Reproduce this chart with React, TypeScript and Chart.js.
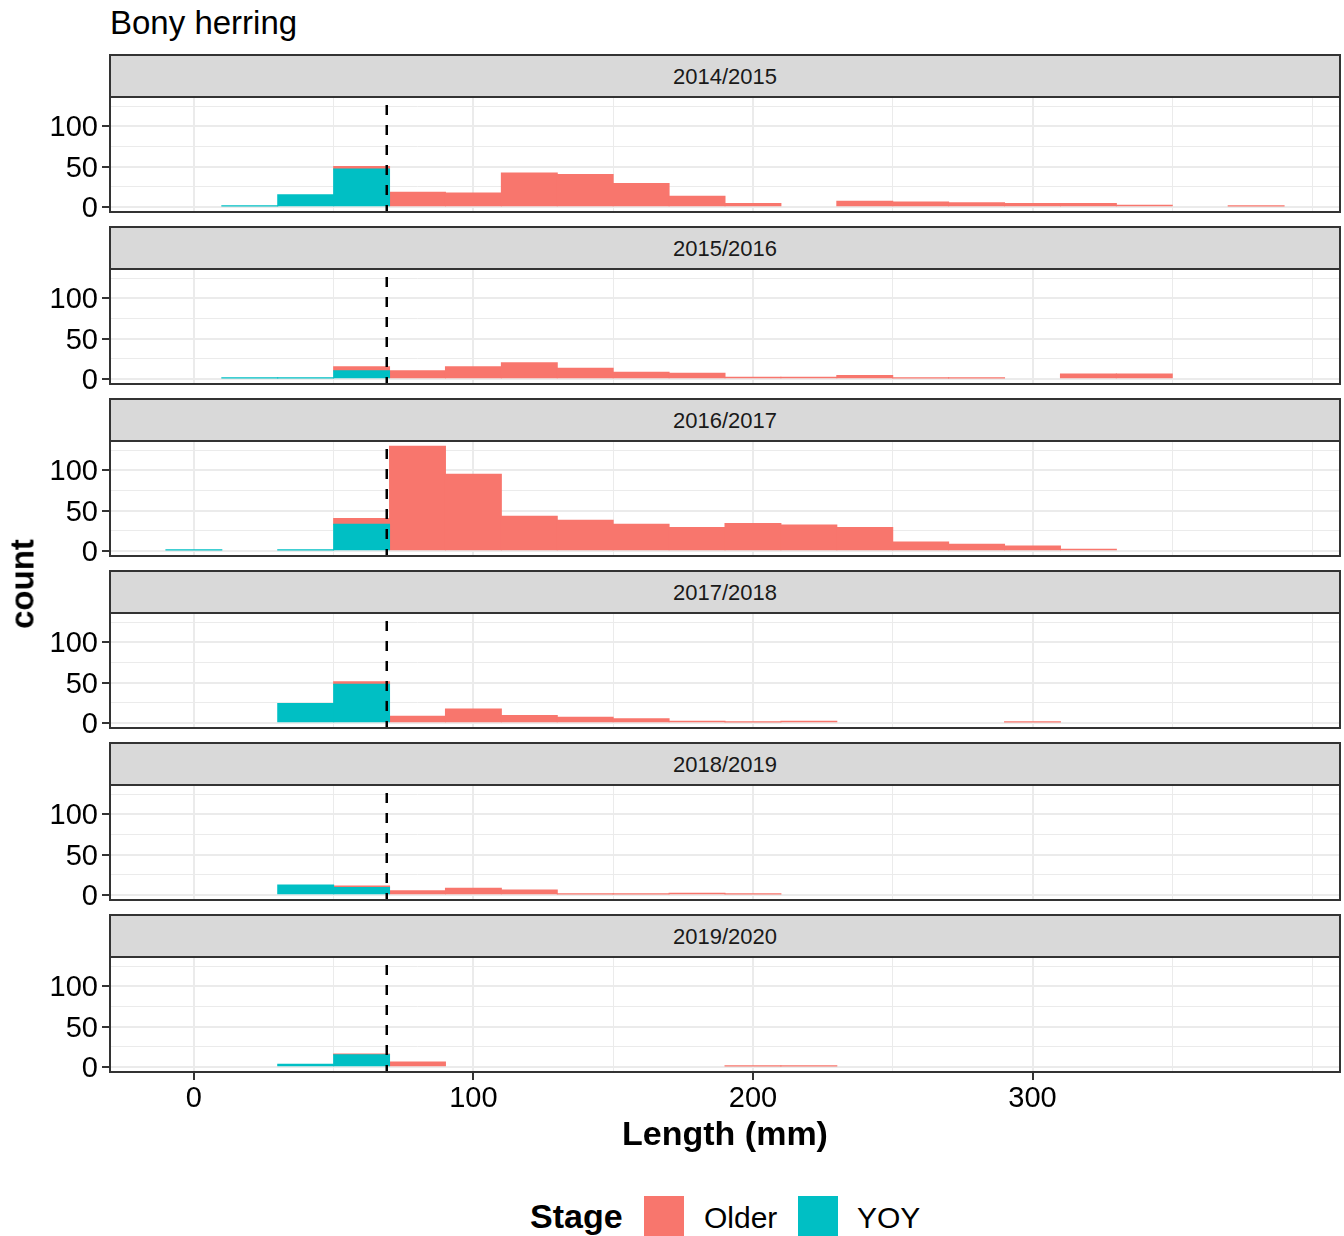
import React, { useEffect, useRef } from "react";
import { Chart, registerables } from "chart.js";

Chart.register(...registerables);

const FONT = '"Liberation Sans", Arial, Helvetica, sans-serif';

// ---------------- data ----------------
const SEASONS = ["2014/2015", "2015/2016", "2016/2017", "2017/2018", "2018/2019", "2019/2020"];

// histogram bin centres (binwidth 20 mm)
const BIN_CENTERS = [0, 20, 40, 60, 80, 100, 120, 140, 160, 180, 200, 220, 240, 260, 280, 300, 320, 340, 360, 380];

const YOY_2014 = [0, 1, 15, 47, 0, 0, 0, 0, 0, 0, 0, 0, 0, 0, 0, 0, 0, 0, 0, 0];
const OLDER_2014 = [0, 0, 0, 3, 18, 17, 42, 40, 29, 13, 4, 0, 7, 6, 5, 4, 4, 2, 0, 1];

const YOY_2015 = [0, 1, 1, 10, 0, 0, 0, 0, 0, 0, 0, 0, 0, 0, 0, 0, 0, 0, 0, 0];
const OLDER_2015 = [0, 0, 0, 5, 10, 15, 20, 13, 8, 7, 2, 2, 4, 1, 1, 0, 6, 6, 0, 0];

const YOY_2016 = [1, 0, 1, 33, 0, 0, 0, 0, 0, 0, 0, 0, 0, 0, 0, 0, 0, 0, 0, 0];
const OLDER_2016 = [0, 0, 0, 7, 130, 95, 43, 38, 33, 29, 34, 32, 29, 11, 8, 6, 2, 0, 0, 0];

const YOY_2017 = [0, 0, 24, 48, 0, 0, 0, 0, 0, 0, 0, 0, 0, 0, 0, 0, 0, 0, 0, 0];
const OLDER_2017 = [0, 0, 0, 3, 8, 17, 9, 7, 5, 2, 1, 2, 0, 0, 0, 1, 0, 0, 0, 0];

const YOY_2018 = [0, 0, 12, 9, 0, 0, 0, 0, 0, 0, 0, 0, 0, 0, 0, 0, 0, 0, 0, 0];
const OLDER_2018 = [0, 0, 0, 2, 5, 8, 6, 1, 1, 2, 1, 0, 0, 0, 0, 0, 0, 0, 0, 0];

const YOY_2019 = [0, 0, 3, 15, 0, 0, 0, 0, 0, 0, 0, 0, 0, 0, 0, 0, 0, 0, 0, 0];
const OLDER_2019 = [0, 0, 0, 1, 6, 0, 0, 0, 0, 0, 1, 1, 0, 0, 0, 0, 0, 0, 0, 0];

const YOY_BY_SEASON = [YOY_2014, YOY_2015, YOY_2016, YOY_2017, YOY_2018, YOY_2019];
const OLDER_BY_SEASON = [OLDER_2014, OLDER_2015, OLDER_2016, OLDER_2017, OLDER_2018, OLDER_2019];

const X_TICKS = [0, 50, 100, 150, 200, 250, 300, 350, 400];
const X_MAJOR = [0, 100, 200, 300];
const Y_TICKS = [0, 25, 50, 75, 100, 125];
const Y_MAJOR = [0, 50, 100];
const YOY_CUTOFF = 69;

const X_MIN = -30;
const X_MAX = 410;
const Y_MIN = -6.5;
const Y_MAX = 136.5;

const COLOR_OLDER = "#F8766D";
const COLOR_YOY = "#00BFC4";
const GRID = "#EBEBEB";
const DARK = "#333333";

// ---------------- layout ----------------
const W = 1344;
const H = 1236;
const PANEL_LEFT = 110;
const PANEL_RIGHT = 1340;
const PANEL_TOP0 = 97;
const PANEL_H = 115;
const PERIOD = 172;
const PAD = 26;
const XAXIS_H = 50;

const overlayPlugin = {
  id: "overlay",
  afterDatasetsDraw(chart: any) {
    const { ctx, chartArea: a, scales } = chart;
    const x = scales.x.getPixelForValue(YOY_CUTOFF);
    ctx.save();
    ctx.beginPath();
    ctx.rect(a.left, a.top, a.right - a.left, a.bottom - a.top);
    ctx.clip();
    ctx.setLineDash([10, 10]);
    ctx.lineDashOffset = 12;
    ctx.lineWidth = 2.5;
    ctx.strokeStyle = "#000";
    ctx.beginPath();
    ctx.moveTo(x, a.top);
    ctx.lineTo(x, a.bottom);
    ctx.stroke();
    ctx.restore();
    ctx.save();
    ctx.lineWidth = 2;
    ctx.strokeStyle = DARK;
    ctx.strokeRect(a.left, a.top, a.right - a.left, a.bottom - a.top);
    ctx.restore();
  },
};

const barInflate = (c: any) => (c && c.raw && c.raw.y > 0 ? 0.5 : 0);

function Panel({ index }: { index: number }) {
  const ref = useRef<HTMLCanvasElement>(null);
  const isBottom = index === SEASONS.length - 1;
  const top = PANEL_TOP0 + PERIOD * index - PAD;
  const height = PAD + PANEL_H + (isBottom ? XAXIS_H : PAD);

  useEffect(() => {
    const yoy = YOY_BY_SEASON[index];
    const older = OLDER_BY_SEASON[index];
    const isMajorX = (c: any) => X_MAJOR.includes(c?.tick?.value);
    const isMajorY = (c: any) => Y_MAJOR.includes(c?.tick?.value);
    const chart = new Chart(ref.current as HTMLCanvasElement, {
      type: "bar",
      data: {
        datasets: [
          {
            label: "YOY",
            data: BIN_CENTERS.map((x, j) => ({ x, y: yoy[j] })),
            backgroundColor: COLOR_YOY,
            borderWidth: 0,
            inflateAmount: barInflate,
            barPercentage: 1,
            categoryPercentage: 1,
          },
          {
            label: "Older",
            data: BIN_CENTERS.map((x, j) => ({ x, y: older[j] })),
            backgroundColor: COLOR_OLDER,
            borderWidth: 0,
            inflateAmount: barInflate,
            barPercentage: 1,
            categoryPercentage: 1,
          },
        ],
      } as any,
      options: {
        responsive: false,
        animation: false,
        devicePixelRatio: 1,
        events: [],
        layout: { padding: { left: 0, right: W - PANEL_RIGHT, top: PAD, bottom: isBottom ? 0 : PAD } },
        plugins: { legend: { display: false }, tooltip: { enabled: false }, title: { display: false } },
        scales: {
          x: {
            type: "linear",
            min: X_MIN,
            max: X_MAX,
            stacked: true,
            offset: false,
            afterBuildTicks: (s: any) => {
              s.ticks = X_TICKS.map((v) => ({ value: v }));
            },
            afterFit: (s: any) => {
              s.height = isBottom ? XAXIS_H : 0;
            },
            grid: {
              offset: false,
              color: GRID,
              lineWidth: (c: any) => (isMajorX(c) ? 2 : 1),
              drawTicks: isBottom,
              tickLength: 8,
              tickWidth: 2,
              tickColor: (c: any) => (isMajorX(c) ? DARK : "rgba(0,0,0,0)"),
            },
            border: { display: false },
            ticks: {
              display: isBottom,
              autoSkip: false,
              maxRotation: 0,
              minRotation: 0,
              padding: 2,
              color: "#000",
              font: { family: FONT, size: 29 },
              callback: (v: any) => (X_MAJOR.includes(Number(v)) ? String(v) : ""),
            },
          },
          y: {
            type: "linear",
            min: Y_MIN,
            max: Y_MAX,
            stacked: true,
            afterBuildTicks: (s: any) => {
              s.ticks = Y_TICKS.map((v) => ({ value: v }));
            },
            afterFit: (s: any) => {
              s.width = PANEL_LEFT;
            },
            grid: {
              color: GRID,
              lineWidth: (c: any) => (isMajorY(c) ? 2 : 1),
              drawTicks: true,
              tickLength: 8,
              tickWidth: 2,
              tickColor: (c: any) => (isMajorY(c) ? DARK : "rgba(0,0,0,0)"),
            },
            border: { display: false },
            ticks: {
              autoSkip: false,
              padding: 4,
              labelOffset: 2,
              color: "#000",
              font: { family: FONT, size: 29 },
              callback: (v: any) => (Y_MAJOR.includes(Number(v)) ? String(v) : ""),
            },
          },
        },
      } as any,
      plugins: [overlayPlugin],
    });
    return () => chart.destroy();
  }, [index]);

  return (
    <canvas
      ref={ref}
      width={W}
      height={height}
      style={{ position: "absolute", left: 0, top, width: W, height, display: "block" }}
    />
  );
}

export default function App() {
  return (
    <div
      style={{
        position: "absolute",
        left: 0,
        top: 0,
        width: W,
        height: H,
        background: "#fff",
        overflow: "hidden",
        fontFamily: FONT,
        color: "#000",
      }}
    >
      <div
        style={{
          position: "absolute",
          left: PANEL_LEFT,
          top: 6,
          fontSize: 33,
          lineHeight: 1,
          whiteSpace: "nowrap",
        }}
      >
        Bony herring
      </div>

      {SEASONS.map((s, i) => (
        <div
          key={"strip" + s}
          style={{
            position: "absolute",
            left: PANEL_LEFT - 1,
            top: PANEL_TOP0 - 43 + PERIOD * i,
            width: PANEL_RIGHT - PANEL_LEFT + 2,
            height: 44,
            boxSizing: "border-box",
            border: "2px solid " + DARK,
            background: "#D9D9D9",
            textAlign: "center",
            fontSize: 22,
            lineHeight: "41px",
            color: "#1A1A1A",
            whiteSpace: "nowrap",
          }}
        >
          {s}
        </div>
      ))}

      {SEASONS.map((s, i) => (
        <Panel key={"panel" + s} index={i} />
      ))}

      <div
        style={{
          position: "absolute",
          left: 22,
          top: 584,
          transform: "translate(-50%, -50%) rotate(-90deg)",
          fontSize: 33,
          fontWeight: "bold",
          lineHeight: 1,
          whiteSpace: "nowrap",
        }}
      >
        count
      </div>

      <div
        style={{
          position: "absolute",
          left: (PANEL_LEFT + PANEL_RIGHT) / 2,
          top: 1116,
          transform: "translateX(-50%)",
          fontSize: 34,
          fontWeight: "bold",
          lineHeight: 1,
          whiteSpace: "nowrap",
        }}
      >
        Length (mm)
      </div>

      <div
        style={{
          position: "absolute",
          left: 530,
          top: 1199,
          fontSize: 34,
          fontWeight: "bold",
          lineHeight: 1,
          whiteSpace: "nowrap",
        }}
      >
        Stage
      </div>
      <div style={{ position: "absolute", left: 644, top: 1196, width: 40, height: 40, background: COLOR_OLDER }} />
      <div
        style={{ position: "absolute", left: 704, top: 1203, fontSize: 30, lineHeight: 1, whiteSpace: "nowrap" }}
      >
        Older
      </div>
      <div style={{ position: "absolute", left: 798, top: 1196, width: 40, height: 40, background: COLOR_YOY }} />
      <div
        style={{ position: "absolute", left: 857, top: 1203, fontSize: 30, lineHeight: 1, whiteSpace: "nowrap" }}
      >
        YOY
      </div>
    </div>
  );
}
